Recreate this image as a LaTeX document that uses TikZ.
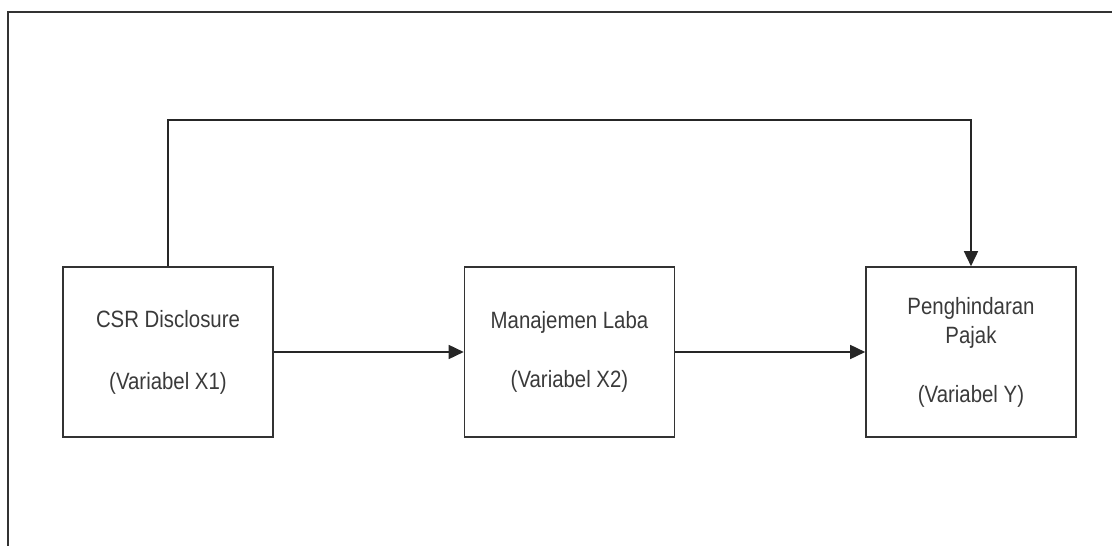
\documentclass[tikz,border=0pt]{standalone}
\usepackage{fontspec}
\usepackage{graphicx}
\setmainfont{Liberation Sans}
\usetikzlibrary{arrows.meta}
\definecolor{linec}{HTML}{333333}
\definecolor{txtc}{HTML}{3A3A3A}
\newcommand{\tall}[1]{\scalebox{1.02}[1.18]{#1}}
\begin{document}
\begin{tikzpicture}[x=1pt,y=-1pt,
  varbox/.style={draw=linec,line width=1.6pt,minimum width=210pt,minimum height=170pt,
    align=center,inner sep=0pt,text=txtc,font=\fontsize{20}{29}\selectfont},
  conn/.style={draw=black!85,line width=1.6pt,-{Triangle[length=15pt,width=14pt]}}]
\useasboundingbox (0,0) rectangle (1112,546);
\draw[linec,line width=1.2pt] (8,560) -- (8,12) -- (1120,12);
\node[varbox] (x1) at (168,352) {\tall{CSR Disclosure}\\[33pt]\tall{(Variabel X1)}};
\node[varbox] (x2) at (569.5,352) {\tall{Manajemen Laba}\\[30pt]\tall{(Variabel X2)}};
\node[varbox] (y) at (971,352) {\tall{Penghindaran}\\\tall{Pajak}\\[30pt]\tall{(Variabel Y)}};
\coordinate (tl) at (168,120);
\coordinate (tr) at (971,120);
\draw[conn] (x1.east) -- (x2.west);
\draw[conn] (x2.east) -- (y.west);
\draw[conn] (x1.north) -- (tl) -- (tr) -- (y.north);
\end{tikzpicture}
\end{document}
